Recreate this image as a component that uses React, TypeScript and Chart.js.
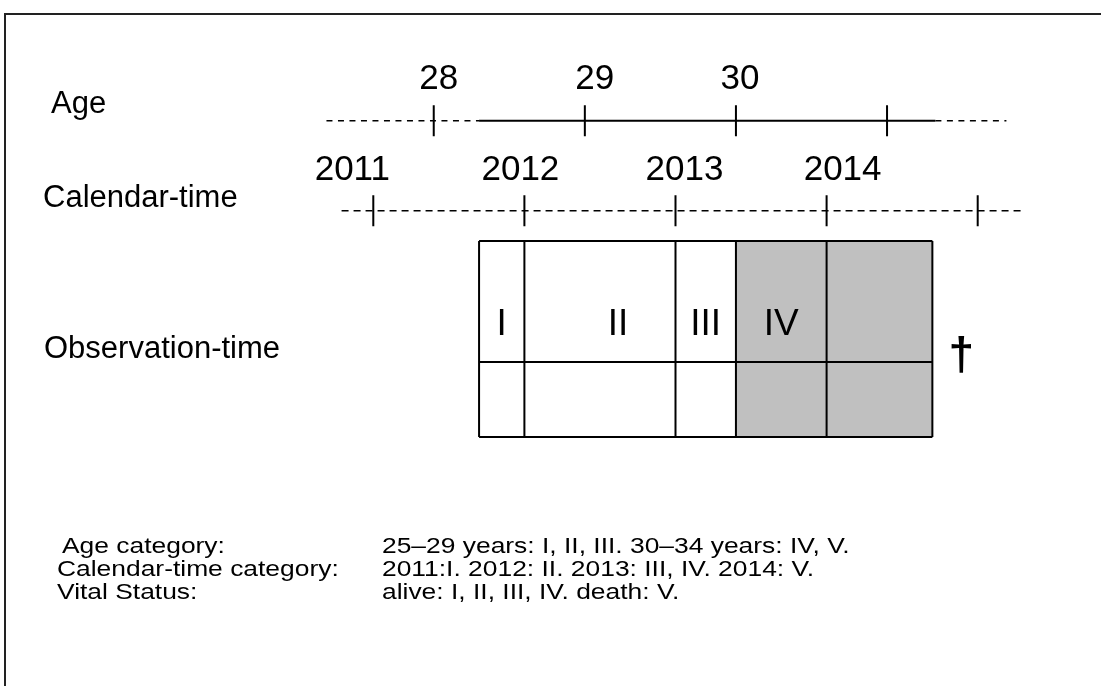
import React, { useEffect, useRef } from "react";
import { Chart, registerables } from "chart.js";

Chart.register(...registerables);

// ---------- data ----------
const calendarYears = [2011, 2012, 2013, 2014, 2015];
const calendarLabels = ["2011", "2012", "2013", "2014", ""];
const ages = [28, 29, 30, 31];
const ageLabels = ["28", "29", "30", ""];
const birthYear = 1983.4; // age a is reached at birthYear + a
const observationStart = 2011.7;
const deathTime = 2014.7;
const ageAxisRange = [2010.69, 2015.19];
const calendarAxisRange = [2010.79, 2015.29];
const cellBounds = [2011.7, 2012, 2013, 2013.4, 2014, 2014.7];
const cellLabels = ["I", "II", "III", "IV"];
const cellLabelPos = [2011.85, 2012.62, 2013.2, 2013.7];
const shadedFrom = 2013.4;
const rowLabels = ["Age", "Calendar-time", "Observation-time"];
const footKeys = ["Age category:", "Calendar-time category:", "Vital Status:"];
const footValues = [
  "25–29 years: I, II, III. 30–34 years: IV, V.",
  "2011:I. 2012: II. 2013: III, IV. 2014: V.",
  "alive: I, II, III, IV. death: V.",
];

// ---------- layout ----------
const W = 1101;
const H = 686;
const PX_PER_YEAR = 151.1;
const YEAR_2011_PX = 373.3;
const X_MIN = 2011 - YEAR_2011_PX / PX_PER_YEAR;
const X_MAX = X_MIN + W / PX_PER_YEAR;
const AGE_Y = 120.7;
const CAL_Y = 210.7;
const TICK_HALF = 15.5;
const BOX_TOP = 241;
const BOX_MID = 362;
const BOX_BOTTOM = 437;
const AGE_LABEL_Y = 89;
const CAL_LABEL_Y = 180;
const ageLabelOffsets = [5, 10, 4, 0];
const calLabelOffsets = [-21, -4, 9, 16, 0];
const rowLabelPos = [
  [51, 113],
  [43, 207],
  [44, 358],
];
const CELL_LABEL_Y = 335;
const FOOT_X1 = [62, 57, 57];
const FOOT_X2 = 382;
const FOOT_Y = [553, 576, 599];
const FONT = '"Liberation Sans", Arial, Helvetica, sans-serif';
const INK = "#000000";

function seg(x1: number, x2: number, y: number) {
  return [
    { x: x1, y },
    { x: x2, y },
  ];
}

function ticks(xs: number[], yc: number) {
  const out: { x: number; y: number | null }[] = [];
  xs.forEach((v) => {
    out.push({ x: v, y: yc - TICK_HALF }, { x: v, y: yc + TICK_HALF }, { x: v, y: null });
  });
  return out;
}

function txt(
  ctx: CanvasRenderingContext2D,
  s: string,
  x: number,
  y: number,
  font: string,
  align: CanvasTextAlign = "left",
  sx = 1
) {
  ctx.save();
  ctx.font = font;
  ctx.fillStyle = "#000";
  ctx.textAlign = align;
  ctx.textBaseline = "alphabetic";
  ctx.translate(x, y);
  ctx.scale(sx, 1);
  ctx.fillText(s, 0, 0);
  ctx.restore();
}

const textPlugin = {
  id: "diagramText",
  afterDraw(chart: any) {
    const ctx: CanvasRenderingContext2D = chart.ctx;
    const xs = chart.scales.x;
    const ys = chart.scales.y;
    ages.forEach((a, i) => {
      if (!ageLabels[i]) return;
      const px = xs.getPixelForValue(birthYear + a) + ageLabelOffsets[i];
      txt(ctx, ageLabels[i], px, ys.getPixelForValue(AGE_LABEL_Y), `35px ${FONT}`, "center");
    });
    calendarYears.forEach((yr, i) => {
      if (!calendarLabels[i]) return;
      const px = xs.getPixelForValue(yr) + calLabelOffsets[i];
      txt(ctx, calendarLabels[i], px, ys.getPixelForValue(CAL_LABEL_Y), `35px ${FONT}`, "center");
    });
    rowLabels.forEach((s, i) => {
      txt(ctx, s, rowLabelPos[i][0], ys.getPixelForValue(rowLabelPos[i][1]), `31px ${FONT}`);
    });
    cellLabels.forEach((s, i) => {
      txt(ctx, s, xs.getPixelForValue(cellLabelPos[i]), ys.getPixelForValue(CELL_LABEL_Y), `37px ${FONT}`, "center");
    });
    txt(ctx, "†", xs.getPixelForValue(deathTime) + 29, ys.getPixelForValue(370), `bold 46px ${FONT}`, "center");
    footKeys.forEach((k, i) => {
      txt(ctx, k, FOOT_X1[i], FOOT_Y[i], `22px ${FONT}`, "left", 1.2);
      txt(ctx, footValues[i], FOOT_X2, FOOT_Y[i], `22px ${FONT}`, "left", 1.2);
    });
  },
};

export default function App() {
  const ref = useRef<HTMLCanvasElement | null>(null);

  useEffect(() => {
    if (!ref.current) return;
    const gridPts: { x: number; y: number | null }[] = [];
    [BOX_TOP, BOX_MID, BOX_BOTTOM].forEach((yy) => {
      gridPts.push({ x: cellBounds[0], y: yy }, { x: cellBounds[cellBounds.length - 1], y: yy }, { x: cellBounds[0], y: null });
    });
    cellBounds.forEach((b) => {
      gridPts.push({ x: b, y: BOX_TOP }, { x: b, y: BOX_BOTTOM }, { x: b, y: null });
    });

    const base = {
      pointRadius: 0,
      pointHoverRadius: 0,
      borderColor: INK,
      fill: false,
      tension: 0,
      spanGaps: false,
    };

    const chart = new Chart(ref.current, {
      type: "line",
      data: {
        datasets: [
          { ...base, data: gridPts as any, borderWidth: 2 },
          { ...base, data: ticks(ages.map((a) => birthYear + a), AGE_Y) as any, borderWidth: 2 },
          { ...base, data: seg(ageAxisRange[0], observationStart, AGE_Y), borderWidth: 1.6, borderDash: [6, 5.5] },
          { ...base, data: seg(observationStart, deathTime + 0.02, AGE_Y), borderWidth: 2 },
          { ...base, data: seg(deathTime + 0.02, ageAxisRange[1], AGE_Y), borderWidth: 1.6, borderDash: [6, 5.5] },
          { ...base, data: ticks(calendarYears, CAL_Y) as any, borderWidth: 2 },
          { ...base, data: seg(calendarAxisRange[0], calendarAxisRange[1], CAL_Y), borderWidth: 1.6, borderDash: [7, 5] },
          {
            ...base,
            data: seg(shadedFrom, deathTime, BOX_TOP),
            borderWidth: 0,
            fill: "+1",
            backgroundColor: "#c0c0c0",
          },
          { ...base, data: seg(shadedFrom, deathTime, BOX_BOTTOM), borderWidth: 0 },
        ],
      },
      options: {
        responsive: false,
        animation: false,
        events: [],
        layout: { padding: 0 },
        plugins: {
          legend: { display: false },
          tooltip: { enabled: false },
          title: { display: false },
        },
        scales: {
          x: { type: "linear", min: X_MIN, max: X_MAX, display: false },
          y: { type: "linear", min: 0, max: H, reverse: true, display: false },
        },
      },
      plugins: [textPlugin],
    });
    return () => chart.destroy();
  }, []);

  return (
    <div style={{ position: "absolute", left: 0, top: 0, width: W, height: H, overflow: "hidden", background: "#fff" }}>
      <div
        style={{
          position: "absolute",
          left: 4,
          top: 13,
          width: W - 4,
          height: H - 13,
          borderTop: "2px solid #222",
          borderLeft: "2px solid #222",
          boxSizing: "border-box",
        }}
      />
      <canvas ref={ref} width={W} height={H} style={{ position: "absolute", left: 0, top: 0, width: W, height: H }} />
    </div>
  );
}
